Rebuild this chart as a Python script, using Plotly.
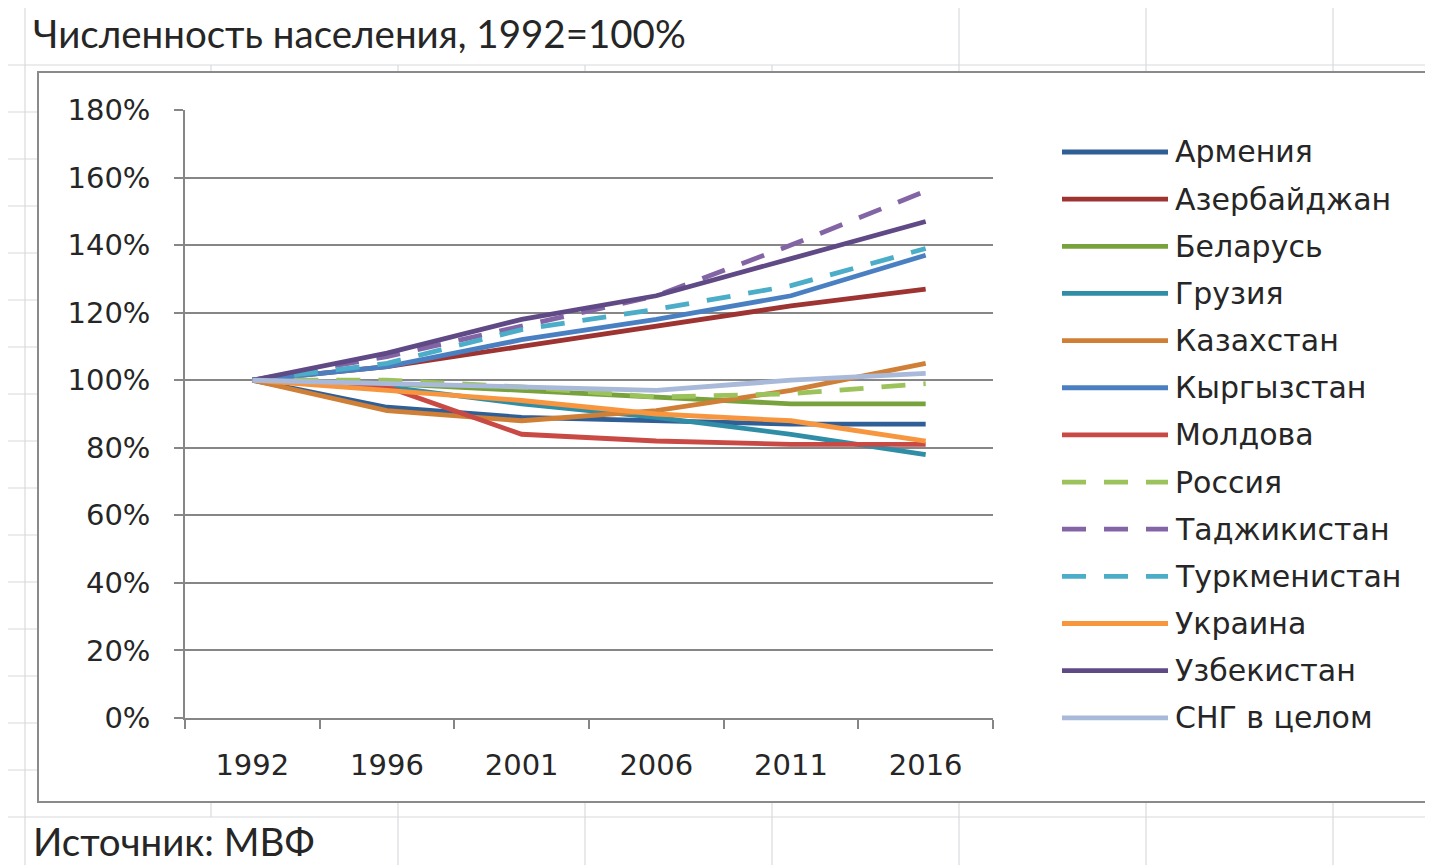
import plotly.graph_objects as go

# the page body adds an 8px margin, so the figure is drawn 8px in from the corner
OFF = 8
W, H = 1433 - OFF, 865 - OFF
L, R, T, B = 185 - OFF, 1433 - 993, 110 - OFF, 865 - 718

years = ["1992", "1996", "2001", "2006", "2011", "2016"]

armenia = [100, 92, 89, 88, 87, 87]
azerbaijan = [100, 104, 110, 116, 122, 127]
belarus = [100, 99, 97, 95, 93, 93]
georgia = [100, 98, 93, 89, 84, 78]
kazakhstan = [100, 91, 88, 91, 97, 105]
kyrgyzstan = [100, 104, 112, 118, 125, 137]
moldova = [100, 98, 84, 82, 81, 81]
russia = [100, 100, 98, 95, 96, 99]
tajikistan = [100, 107, 116, 125, 140, 156]
turkmenistan = [100, 105, 115, 121, 128, 139]
ukraine = [100, 97, 94, 90, 88, 82]
uzbekistan = [100, 108, 118, 125, 136, 147]
cis_total = [100, 99, 98, 97, 100, 102]

y_ticks = list(range(0, 181, 20))
y_tick_labels = [f"{v}%" for v in y_ticks]

series = [
    ("Армения", armenia, "#2f5f96", "solid"),
    ("Азербайджан", azerbaijan, "#9e3431", "solid"),
    ("Беларусь", belarus, "#77a23c", "solid"),
    ("Грузия", georgia, "#2f8ea6", "solid"),
    ("Казахстан", kazakhstan, "#cf7f36", "solid"),
    ("Кыргызстан", kyrgyzstan, "#4a80c2", "solid"),
    ("Молдова", moldova, "#c94a45", "solid"),
    ("Россия", russia, "#9cc35b", "24px,18px"),
    ("Таджикистан", tajikistan, "#8365a6", "24px,18px"),
    ("Туркменистан", turkmenistan, "#4badc8", "24px,18px"),
    ("Украина", ukraine, "#f7963f", "solid"),
    ("Узбекистан", uzbekistan, "#5f4a86", "solid"),
    ("СНГ в целом", cis_total, "#a8b9d9", "solid"),
]


def px_x(px):
    # reference pixel -> paper coordinate
    return (px - OFF - L) / (W - L - R)


def px_y(py):
    return (H - B - (py - OFF)) / (H - T - B)


fig = go.Figure()
for name, values, color, dash in series:
    fig.add_trace(
        go.Scatter(
            x=years,
            y=values,
            mode="lines",
            name=name,
            line={"color": color, "width": 4.8, "dash": dash},
            showlegend=False,
        )
    )

shapes = []
grid = "#d7dade"
# spreadsheet background: row lines
rows = [5] + [65 + 47 * k for k in range(17)]
for ry in rows:
    shapes.append(dict(type="line", xref="paper", yref="paper", layer="below",
                       x0=px_x(0), x1=px_x(1433), y0=px_y(ry), y1=px_y(ry),
                       line={"color": grid, "width": 1.2}))
# column lines (hidden where text spills over)
for cx in [25, 211, 398, 585, 772, 959, 1146, 1333]:
    top = 5 if cx in (25, 959, 1146, 1333) else 65
    bottom = 865 if cx != 211 else 817
    shapes.append(dict(type="line", xref="paper", yref="paper", layer="below",
                       x0=px_x(cx), x1=px_x(cx), y0=px_y(top), y1=px_y(bottom),
                       line={"color": grid, "width": 1.2}))
# chart area box
shapes.append(dict(type="rect", xref="paper", yref="paper", layer="below",
                   x0=px_x(38), x1=px_x(1445), y0=px_y(72), y1=px_y(802),
                   fillcolor="white", line={"color": "#8a8a8a", "width": 2}))

annotations = [
    dict(text="Численность населения, 1992=100%", xref="paper", yref="paper",
         x=px_x(31), y=px_y(33), xanchor="left", yanchor="middle", showarrow=False,
         font={"family": "Lato", "size": 38.5, "color": "#262626"}),
    dict(text="Источник: МВФ", xref="paper", yref="paper",
         x=px_x(31), y=px_y(841), xanchor="left", yanchor="middle", showarrow=False,
         font={"family": "Lato", "size": 38.5, "color": "#262626"}),
]

# legend drawn next to the plot, one row per series
for i, (name, values, color, dash) in enumerate(series):
    ly = 152 + 47.15 * i
    shapes.append(dict(type="line", xref="paper", yref="paper",
                       x0=px_x(1062), x1=px_x(1168), y0=px_y(ly), y1=px_y(ly),
                       line={"color": color, "width": 4.8, "dash": dash}))
    annotations.append(dict(text=name, xref="paper", yref="paper",
                            x=px_x(1173), y=px_y(ly), xanchor="left", yanchor="middle",
                            showarrow=False,
                            font={"family": "DejaVu Sans", "size": 30, "color": "#262626"}))

tick_font = {"family": "DejaVu Sans", "size": 29, "color": "#262626"}
fig.update_xaxes(
    type="category",
    range=[-0.5, len(years) - 0.5],
    showline=True,
    linecolor="#868686",
    linewidth=1.5,
    showgrid=False,
    ticks="outside",
    tickson="boundaries",
    ticklen=9,
    tickcolor="#868686",
    tickwidth=1.5,
    ticklabelstandoff=20,
    tickfont=tick_font,
)
fig.update_yaxes(
    range=[0, 180],
    tickvals=y_ticks,
    ticktext=y_tick_labels,
    showline=True,
    linecolor="#868686",
    linewidth=1.5,
    showgrid=True,
    gridcolor="#868686",
    gridwidth=1.5,
    zeroline=False,
    ticks="outside",
    ticklen=9,
    tickcolor="#868686",
    tickwidth=1.5,
    ticklabelstandoff=18,
    tickfont=tick_font,
)
fig.update_layout(
    width=W,
    height=H,
    margin={"l": L, "r": R, "t": T, "b": B},
    paper_bgcolor="white",
    plot_bgcolor="rgba(0,0,0,0)",
    shapes=shapes,
    annotations=annotations,
    showlegend=False,
)
fig.write_html("out.html")
